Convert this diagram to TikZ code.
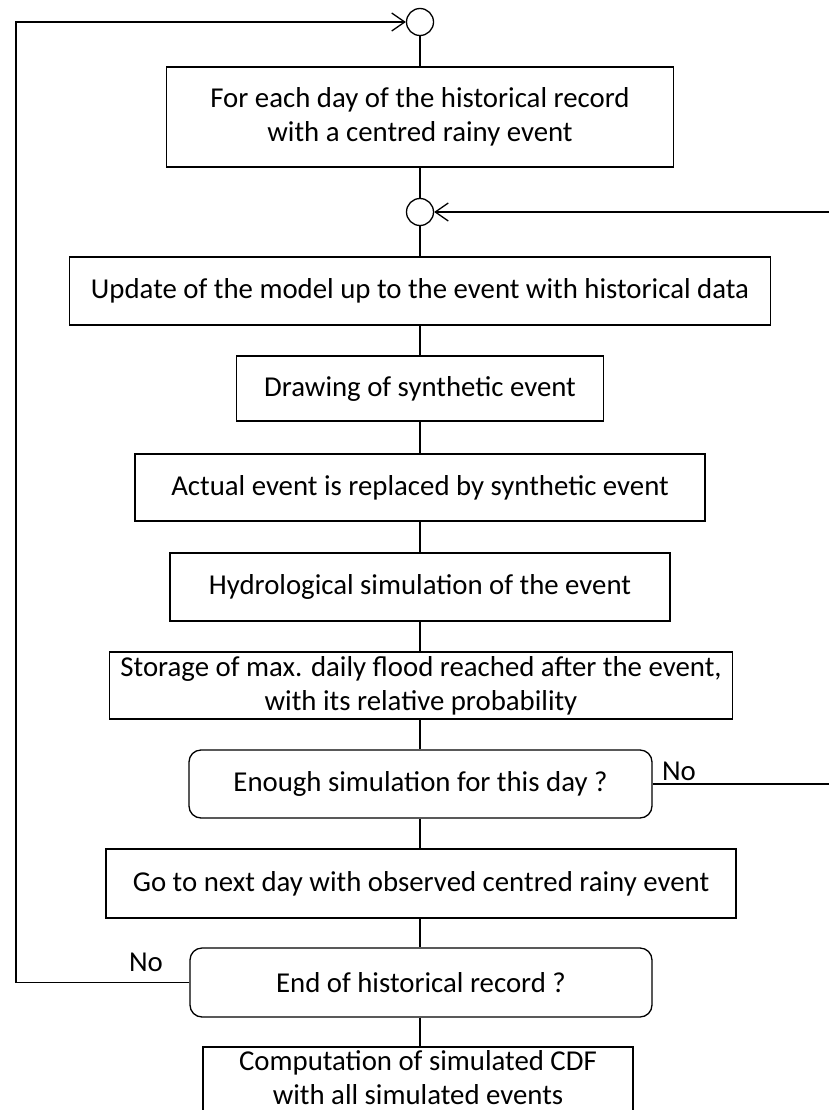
\documentclass[tikz,border=0pt]{standalone}
\usepackage{fontspec}
\setmainfont{Carlito}
\usetikzlibrary{arrows.meta}
\begin{document}
\begin{tikzpicture}[x=1pt,y=-1pt,
  every node/.style={font=\fontsize{28.8}{34}\selectfont, text=black},
  stepbox/.style={draw, line width=1.3pt, rectangle, align=center, inner sep=0pt},
  decbox/.style={stepbox, rounded corners=12pt},
  plaintext/.style={align=center, inner sep=0pt},
  junction/.style={draw, line width=1.3pt, circle, minimum size=27pt, inner sep=0pt},
  flow/.style={line width=1.3pt},
  arr/.style={flow, -{Straight Barb[length=13pt,width=18pt,line width=1.3pt]}}]
\useasboundingbox (0,0) rectangle (829,1110);
\node[junction] (c1) at (420,22) {};
\node[stepbox, minimum width=507pt, minimum height=100pt] (b1) at (420,117) {For each day of the historical record\\with a centred rainy event};
\node[junction] (c2) at (420,212) {};
\node[stepbox, minimum width=701pt, minimum height=68pt] (b2) at (420,291) {Update of the model up to the event with historical data};
\node[stepbox, minimum width=367pt, minimum height=65pt] (b3) at (420,388.5) {Drawing of synthetic event};
\node[stepbox, minimum width=570pt, minimum height=67pt] (b4) at (420,487.5) {Actual event is replaced by synthetic event};
\node[stepbox, minimum width=500pt, minimum height=68pt] (b5) at (420,587) {Hydrological simulation of the event};
\node[stepbox, minimum width=623pt, minimum height=67pt] (b6) at (421,685.5) {Storage of max. daily flood reached after the event,\\with its relative probability};
\node[decbox, minimum width=463pt, minimum height=68pt] (d1) at (420.5,784) {Enough simulation for this day ?};
\node[stepbox, minimum width=630pt, minimum height=69pt] (b7) at (421,883.5) {Go to next day with observed centred rainy event};
\node[decbox, minimum width=462pt, minimum height=69pt] (d2) at (421,982.5) {End of historical record ?};
% last box, cut off by the lower edge
\coordinate (f8bl) at (203,1116);
\coordinate (f8tl) at (203,1047);
\coordinate (f8tr) at (633,1047);
\coordinate (f8br) at (633,1116);
\node[plaintext] (b8) at (418,1078) {Computation of simulated CDF\\with all simulated events};
\draw[flow] (f8bl) -- (f8tl) -- (f8tr) -- (f8br);
\node (no1) at (679,771) {No};
\node (no2) at (146,962) {No};
\coordinate (lt) at (16,22);
\coordinate (lb) at (16,982.5);
\coordinate (rt) at (835,212);
\coordinate (rb) at (835,784);
% vertical chain
\draw[flow] (c1.south) -- (c1.south |- b1.north);
\draw[flow] (b1.south) -- (b1.south |- c2.north);
\draw[flow] (c2.south) -- (c2.south |- b2.north);
\draw[flow] (b2.south) -- (b2.south |- b3.north);
\draw[flow] (b3.south) -- (b3.south |- b4.north);
\draw[flow] (b4.south) -- (b4.south |- b5.north);
\draw[flow] (b5.south) -- (b5.south |- b6.north);
\draw[flow] (b5.south |- b6.south) -- (b5.south |- d1.north);
\draw[flow] (b5.south |- d1.south) -- (b5.south |- b7.north);
\draw[flow] (b5.south |- b7.south) -- (b5.south |- d2.north);
\draw[flow] (b5.south |- d2.south) -- (b5.south |- f8tl);
% loops
\draw[arr] (d2.west) -- (lb) -- (lt) -- (c1.west);
\draw[arr] (d1.east) -- (rb) -- (rt) -- (c2.east);
\end{tikzpicture}
\end{document}
